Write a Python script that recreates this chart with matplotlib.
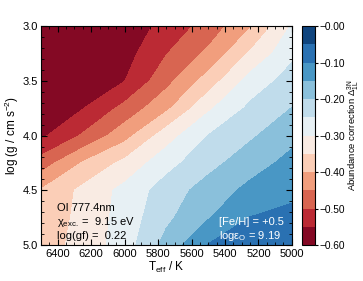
import matplotlib
matplotlib.use('Agg')
import matplotlib.pyplot as plt
import numpy as np
from matplotlib.ticker import MultipleLocator, FuncFormatter

plt.rcParams['font.family'] = ['Liberation Sans', 'DejaVu Sans']
plt.rcParams['mathtext.fontset'] = 'custom'
plt.rcParams['mathtext.rm'] = 'Liberation Sans'
plt.rcParams['mathtext.it'] = 'Liberation Sans:italic'
plt.rcParams['font.size'] = 8

# model grid (Teff in K, log g in cgs)
teff = [6500, 6250, 6000, 5750, 5500, 5250, 5000]
logg = [3.0, 3.25, 3.5, 3.75, 4.0, 4.25, 4.5, 4.75, 5.0]

# abundance correction, one row per logg
dcorr = np.array([
    [-0.590, -0.590, -0.582, -0.533, -0.480, -0.406, -0.295],
    [-0.590, -0.590, -0.570, -0.502, -0.440, -0.344, -0.261],
    [-0.590, -0.590, -0.551, -0.466, -0.378, -0.280, -0.229],
    [-0.590, -0.552, -0.485, -0.411, -0.309, -0.240, -0.199],
    [-0.560, -0.494, -0.419, -0.323, -0.249, -0.208, -0.164],
    [-0.477, -0.396, -0.337, -0.268, -0.217, -0.172, -0.135],
    [-0.397, -0.338, -0.285, -0.227, -0.178, -0.137, -0.110],
    [-0.386, -0.335, -0.280, -0.211, -0.154, -0.099, -0.089],
    [-0.375, -0.332, -0.275, -0.182, -0.098, -0.085, -0.070],
])

levels = np.linspace(-0.60, 0.0, 13)
cbar_ticks = [-0.6, -0.5, -0.4, -0.3, -0.2, -0.1, 0.0]

fig = plt.figure(figsize=(3.63, 2.81), dpi=100)
ax = fig.add_axes([0.113, 0.128, 0.691, 0.779])
cax = fig.add_axes([0.831, 0.128, 0.036, 0.779])

cs = ax.contourf(teff, logg, dcorr, levels=levels, cmap='RdBu')

ax.set_xlim(6500, 5000)
ax.set_ylim(5.0, 3.0)
ax.xaxis.set_major_locator(MultipleLocator(200))
ax.xaxis.set_minor_locator(MultipleLocator(50))
ax.yaxis.set_major_locator(MultipleLocator(0.5))
ax.yaxis.set_minor_locator(MultipleLocator(0.1))
ax.yaxis.set_major_formatter(FuncFormatter(lambda v, _: '%.1f' % v))
ax.tick_params(which='both', direction='in', top=True, right=True, labelsize=8, pad=2.5)
ax.tick_params(which='major', length=4)
ax.tick_params(which='minor', length=2)

ax.set_xlabel(r'T$_{\rm eff}$ / K', fontsize=8.5, labelpad=1)
ax.set_ylabel(r'log (g / cm s$^{-2}$)', fontsize=8.5, labelpad=1)

ax.text(0.064, 0.169, 'OI 777.4nm', transform=ax.transAxes, fontsize=8, va='center')
ax.text(0.064, 0.105, 'χ$_{\\rm exc.}$ =  9.15 eV', transform=ax.transAxes, fontsize=8, va='center')
ax.text(0.064, 0.041, 'log(gf) =  0.22', transform=ax.transAxes, fontsize=8, va='center')
ax.text(0.709, 0.105, '[Fe/H] = +0.5', transform=ax.transAxes, fontsize=8, va='center', color='white')
ax.text(0.709, 0.041, 'logε$_{\\rm O}$ = 9.19', transform=ax.transAxes, fontsize=8, va='center', color='white')

cb = fig.colorbar(cs, cax=cax, ticks=cbar_ticks)
cb.ax.yaxis.set_major_formatter(FuncFormatter(lambda v, _: '\u2212%.2f' % abs(v)))
cb.ax.tick_params(labelsize=7.3, length=2.5, pad=1)
fig.text(0.995, 0.5175, r'Abundance correction $\Delta^{\rm 3N}_{\rm 1L}$', fontsize=6.8,
         rotation=90, ha='right', va='center')

fig.savefig('out.png', dpi=100)
